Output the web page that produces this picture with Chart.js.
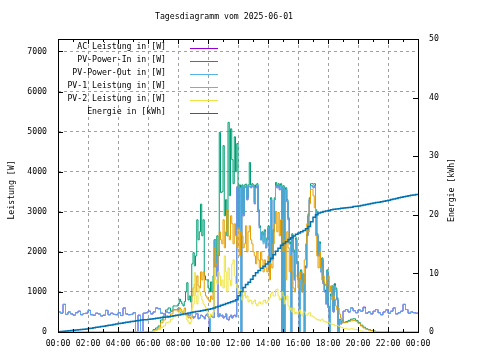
<!DOCTYPE html>
<html>
<head>
<meta charset="utf-8">
<script src="https://cdn.jsdelivr.net/npm/chart.js@4/dist/chart.umd.min.js"></script>
<style>
  html, body { margin: 0; padding: 0; background: #fff; }
  canvas { display: block; }
</style>
</head>
<body>
<canvas id="chart" width="480" height="360"></canvas>
<script>
const titel = "Tagesdiagramm vom 2025-06-01";
const yTitel = "Leistung [W]";
const y2Titel = "Energie [kWh]";
const xTickLabels = ["00:00", "02:00", "04:00", "06:00", "08:00", "10:00", "12:00",
                     "14:00", "16:00", "18:00", "20:00", "22:00", "00:00"];
const yTicks = [0, 1000, 2000, 3000, 4000, 5000, 6000, 7000];
const y2Ticks = [0, 10, 20, 30, 40, 50];
const serienNamen = ["AC Leistung in [W]", "PV-Power-In in [W]", "PV-Power-Out in [W]",
                     "PV-1 Leistung in [W]", "PV-2 Leistung in [W]", "Energie in [kWh]"];
const serienFarben = ["#9400d3", "#009e73", "#56b4e9", "#e69f00", "#f0e442", "#0072b2"];

// Leistungswerte: 00:00-08:00 alle 10 min, 08:00-19:00 alle 5 min, 19:00-24:00 alle 10 min
const acLeistung = [
  480, 500, 470, 690, 440, 500,
  450, 420, 480, 520, 430, 460,
  470, 540, 430, 420, 470, 450,
  400, 420, 540, 430, 470, 440,
  430, 480, 410, 600, 450, 430,
  440, 480, 0, 420, 0, 470,
  480, 520, 450, 500, 600, 580,
  470, 450, 500, 480, 520, 560,
  560, 600, 520, 480, 450, 520, 500, 460, 450, 420, 420, 480,
  400, 350, 380, 450, 460, 330, 350, 420, 400, 380, 330, 420,
  450, 380, 0, 420, 380, 360, 2300, 1400, 1900, 380, 450, 400,
  420, 350, 380, 450, 320, 300, 380, 420, 350, 400, 420, 380,
  3620, 2570, 3600, 0, 3620, 2900, 3600, 3640, 3300, 3620, 3640, 3600,
  3650, 3620, 3200, 3600, 3650, 3000, 2600, 2300, 2450, 2430, 2500, 2100,
  2300, 2600, 1500, 3300, 1800, 2500, 3300, 3650, 3600, 3650, 3550, 3650,
  0, 3600, 0, 3550, 3250, 2800, 2200, 0, 2400, 2000, 1300, 2300,
  1700, 1300, 0, 1500, 1000, 1400, 0, 1600, 2400, 2900, 3300, 3650,
  3650, 3600, 3650, 3000, 2400, 1900, 2200, 1500, 1800, 1200, 1000, 700,
  1500, 600, 0, 900, 1100, 500, 1200, 1050, 800, 0, 300, 200,
  250, 520, 560, 500, 600, 530,
  480, 550, 520, 620, 470, 500,
  450, 520, 560, 480, 430, 500,
  550, 470, 520, 600, 450, 480,
  520, 690, 560, 470, 500, 480,
  470
];
const pvPowerIn = [
  0, 0, 0, 0, 0, 0,
  0, 0, 0, 0, 0, 0,
  0, 0, 0, 0, 0, 0,
  0, 0, 0, 0, 0, 0,
  0, 0, 0, 0, 0, 0,
  0, 0, 0, 0, 0, 0,
  0, 0, 0, 60, 100, 150,
  300, 400, 550, 600, 520, 650,
  650, 700, 820, 760, 700, 650, 760, 1000, 1230, 800, 900, 750,
  1700, 1980, 1650, 1900, 2800, 2300, 2500, 3190, 2400, 2800, 1400, 1300,
  1300, 1100, 1000, 1250, 1000, 1400, 2300, 1700, 2400, 1900, 4980, 3480,
  3500, 4650, 2900, 3300, 2400, 5230, 3400, 5070, 4300, 3700, 4870, 4000,
  4700, 2620, 3670, 0, 3670, 2950, 3670, 3690, 3350, 3670, 4230, 3670,
  3700, 3670, 3250, 3670, 3700, 3050, 2650, 2350, 2500, 2250, 2550, 2150,
  2350, 2650, 1550, 3350, 1850, 2550, 3350, 3730, 3650, 3700, 3600, 3700,
  0, 3650, 0, 3600, 3300, 2850, 2250, 0, 2450, 2050, 1350, 2350,
  1750, 1350, 0, 1550, 1050, 1450, 0, 1650, 2450, 2950, 3350, 3700,
  3700, 3690, 3700, 3050, 2450, 1950, 2250, 1550, 1850, 1250, 1050, 750,
  1550, 650, 0, 950, 1150, 550, 1200, 1100, 850, 0, 320, 250,
  300, 240, 260, 290, 320, 330,
  290, 230, 170, 120, 80, 60,
  40, 25, 10, 0, 0, 0,
  0, 0, 0, 0, 0, 0,
  0, 0, 0, 0, 0, 0,
  0
];
const pvPowerOut = [
  480, 500, 470, 690, 440, 500,
  450, 420, 480, 520, 430, 460,
  470, 540, 430, 420, 470, 450,
  400, 420, 540, 430, 470, 440,
  430, 480, 410, 600, 450, 430,
  440, 480, 0, 420, 0, 470,
  480, 520, 450, 500, 600, 580,
  470, 450, 500, 480, 520, 560,
  560, 600, 520, 480, 450, 520, 500, 460, 450, 420, 420, 480,
  400, 350, 380, 450, 460, 330, 350, 420, 400, 380, 330, 420,
  450, 380, 0, 420, 380, 360, 2300, 1400, 1900, 380, 450, 400,
  420, 350, 380, 450, 320, 300, 380, 420, 350, 400, 420, 380,
  3620, 2570, 3600, 0, 3620, 2900, 3600, 3640, 3300, 3620, 3640, 3600,
  3650, 3620, 3200, 3600, 3650, 3000, 2600, 2300, 2450, 2200, 2500, 2100,
  2300, 2600, 1500, 3300, 1800, 2500, 3300, 3650, 3600, 3650, 3550, 3650,
  0, 3600, 0, 3550, 3250, 2800, 2200, 0, 2400, 2000, 1300, 2300,
  1700, 1300, 0, 1500, 1000, 1400, 0, 1600, 2400, 2900, 3300, 3650,
  3650, 3600, 3650, 3000, 2400, 1900, 2200, 1500, 1800, 1200, 1000, 700,
  1500, 600, 0, 900, 1100, 500, 1150, 1050, 800, 0, 300, 200,
  250, 520, 560, 500, 600, 530,
  480, 550, 520, 600, 470, 500,
  450, 520, 560, 480, 430, 500,
  550, 470, 520, 600, 450, 480,
  520, 690, 560, 470, 500, 480,
  470
];
const pv1Leistung = [
  0, 0, 0, 0, 0, 0,
  0, 0, 0, 0, 0, 0,
  0, 0, 0, 0, 0, 0,
  0, 0, 0, 0, 0, 0,
  0, 0, 0, 0, 0, 0,
  0, 0, 0, 0, 0, 0,
  0, 0, 0, 30, 60, 100,
  230, 300, 400, 360, 450, 550,
  550, 500, 600, 560, 480, 520, 600, 450, 400, 350, 380, 330,
  900, 1100, 1200, 1000, 1400, 1150, 1100, 1500, 1300, 1500, 1000, 900,
  850, 800, 750, 900, 820, 1000, 2100, 1650, 1700, 2000, 2500, 2300,
  2200, 2800, 2100, 2500, 3050, 2400, 2300, 2900, 2700, 2200, 2700, 2400,
  2100, 2600, 1900, 2500, 2400, 2100, 2200, 2650, 2000, 2500, 2650, 2300,
  2200, 2000, 1900, 1700, 2000, 1800, 1600, 2000, 1800, 1500, 1800, 1600,
  1500, 1900, 1300, 1700, 1600, 2200, 2700, 3000, 2500, 2980, 2400, 2800,
  2800, 2000, 2300, 1300, 2500, 2100, 1500, 1900, 1500, 1100, 1000, 1400,
  1400, 1100, 1500, 1300, 1000, 1200, 1800, 2200, 2700, 2500, 3200, 3560,
  3560, 3400, 3100, 2400, 1900, 1600, 2000, 1600, 1300, 1400, 1200, 1150,
  1300, 1400, 1000, 1150, 800, 900, 820, 650, 550, 600, 450, 350,
  260, 230, 240, 260, 280, 290,
  270, 210, 150, 100, 70, 50,
  30, 20, 5, 0, 0, 0,
  0, 0, 0, 0, 0, 0,
  0, 0, 0, 0, 0, 0,
  0
];
const pv2Leistung = [
  0, 0, 0, 0, 0, 0,
  0, 0, 0, 0, 0, 0,
  0, 0, 0, 0, 0, 0,
  0, 0, 0, 0, 0, 0,
  0, 0, 0, 0, 0, 0,
  0, 0, 0, 0, 0, 0,
  0, 0, 0, 20, 40, 60,
  110, 150, 230, 250, 320, 400,
  400, 450, 550, 500, 450, 550, 500, 400, 300, 250, 200, 250,
  600, 700, 1480, 900, 700, 1100, 1000, 900, 800, 700, 650, 600,
  500, 400, 350, 450, 400, 500, 1600, 1300, 1200, 1500, 1400, 1150,
  1300, 1100, 1900, 1500, 1000, 1600, 1300, 1150, 1700, 1800, 1400, 1200,
  1100, 1000, 900, 1050, 800, 900, 1000, 850, 900, 750, 800, 780,
  700, 760, 800, 700, 650, 720, 750, 700, 700, 780, 800, 720,
  750, 800, 850, 950, 1000, 900, 900, 1050, 1070, 900, 800, 850,
  1000, 900, 700, 800, 900, 650, 550, 600, 500, 600, 450, 500,
  450, 500, 550, 450, 400, 500, 500, 430, 420, 470, 480, 400,
  400, 380, 350, 330, 300, 310, 280, 300, 320, 280, 250, 260,
  230, 250, 200, 220, 180, 190, 150, 160, 170, 150, 130, 120,
  110, 90, 80, 70, 80, 70,
  60, 40, 20, 0, 0, 0,
  0, 0, 0, 0, 0, 0,
  0, 0, 0, 0, 0, 0,
  0, 0, 0, 0, 0, 0,
  0
];
// Energie alle 10 min, eine Zeile pro Stunde, letzter Wert = 24:00
const energie = [
  0.00, 0.04, 0.08, 0.12, 0.16, 0.20,
  0.25, 0.29, 0.33, 0.37, 0.41, 0.45,
  0.50, 0.58, 0.65, 0.72, 0.79, 0.86,
  0.93, 1.00, 1.07, 1.14, 1.21, 1.29,
  1.37, 1.44, 1.51, 1.58, 1.65, 1.72,
  1.79, 1.85, 1.91, 1.97, 2.03, 2.07,
  2.10, 2.16, 2.22, 2.28, 2.34, 2.40,
  2.46, 2.52, 2.58, 2.64, 2.70, 2.76,
  2.84, 2.92, 3.00, 3.08, 3.16, 3.24,
  3.32, 3.40, 3.48, 3.56, 3.64, 3.72,
  3.80, 3.88, 3.96, 4.10, 4.25, 4.40,
  4.55, 4.70, 4.85, 5.00, 5.15, 5.30,
  5.50, 6.20, 6.90, 7.60, 8.10, 8.50,
  9.00, 9.60, 10.10, 10.50, 10.90, 11.20,
  11.60, 12.00, 12.60, 13.20, 13.80, 14.30,
  14.80, 15.10, 15.40, 15.80, 16.10, 16.40,
  16.70, 16.90, 17.10, 17.30, 17.60, 18.00,
  18.80, 19.60, 20.00, 20.30, 20.45, 20.55,
  20.65, 20.75, 20.85, 20.95, 21.00, 21.05,
  21.10, 21.15, 21.20, 21.25, 21.30, 21.40,
  21.45, 21.52, 21.60, 21.68, 21.76, 21.84,
  21.92, 22.00, 22.08, 22.16, 22.24, 22.32,
  22.40, 22.50, 22.60, 22.70, 22.80, 22.90,
  23.00, 23.08, 23.16, 23.24, 23.32, 23.40,
  23.45
];

// Zeitraster in Stunden
const zeitLeistung = [];
for (let m = 0; m < 480; m += 10) zeitLeistung.push(m / 60);
for (let m = 480; m < 1140; m += 5) zeitLeistung.push(m / 60);
for (let m = 1140; m <= 1440; m += 10) zeitLeistung.push(m / 60);
const zeitEnergie = energie.map((_, i) => i / 6);

const schrift = "DejaVu Sans Mono";
const schriftGroesse = 8.2;

function punkte(zeit, werte) {
  return werte.map((w, i) => ({ x: zeit[i], y: w }));
}

const reihen = [acLeistung, pvPowerIn, pvPowerOut, pv1Leistung, pv2Leistung, energie];

const datasets = reihen.map((werte, i) => ({
  label: serienNamen[i],
  data: punkte(i === 5 ? zeitEnergie : zeitLeistung, werte),
  borderColor: serienFarben[i],
  borderWidth: i === 5 ? 1.5 : 1,
  pointRadius: 0,
  stepped: "after",
  fill: false,
  yAxisID: i === 5 ? "y2" : "y",
  order: 6 - i   // wie gnuplot: spätere Kurven liegen oben
}));

// Rahmen, Ticks nach innen, Titel und Legende
const rahmenPlugin = {
  id: "rahmen",
  afterDraw(chart) {
    const ctx = chart.ctx;
    const a = chart.chartArea;
    const sx = chart.scales.x, sy = chart.scales.y, sy2 = chart.scales.y2;
    ctx.save();
    ctx.setLineDash([]);
    ctx.globalAlpha = 1;
    ctx.strokeStyle = "#000";
    ctx.lineWidth = 1;
    ctx.beginPath();
    for (let h = 0; h <= 24; h++) {
      const px = Math.round(sx.getPixelForValue(h)) + 0.5;
      const len = h % 2 === 0 ? 5 : 3;
      ctx.moveTo(px, a.bottom); ctx.lineTo(px, a.bottom - len);
      ctx.moveTo(px, a.top); ctx.lineTo(px, a.top + len);
    }
    yTicks.forEach(v => {
      const py = Math.round(sy.getPixelForValue(v)) + 0.5;
      ctx.moveTo(a.left, py); ctx.lineTo(a.left + 5, py);
    });
    y2Ticks.forEach(v => {
      const py = Math.round(sy2.getPixelForValue(v)) + 0.5;
      ctx.moveTo(a.right, py); ctx.lineTo(a.right - 5, py);
    });
    ctx.stroke();
    ctx.strokeRect(Math.round(a.left) + 0.5, Math.round(a.top) + 0.5,
                   Math.round(a.right - a.left), Math.round(a.bottom - a.top));

    ctx.fillStyle = "#000";
    ctx.font = schriftGroesse + "px '" + schrift + "'";
    ctx.textBaseline = "middle";
    ctx.textAlign = "center";
    ctx.fillText(titel, 224, 17);

    ctx.save();
    ctx.translate(12, 190);
    ctx.rotate(-Math.PI / 2);
    ctx.fillText(yTitel, 0, 0);
    ctx.restore();
    ctx.save();
    ctx.translate(452, 190);
    ctx.rotate(-Math.PI / 2);
    ctx.fillText(y2Titel, 0, 0);
    ctx.restore();

    // Legende: Text rechtsbündig, Linienmuster rechts daneben
    ctx.textAlign = "right";
    serienNamen.forEach((name, i) => {
      const ly = Math.round(a.top) + 8 + i * 13;
      ctx.fillStyle = "#000";
      ctx.fillText(name, 166, ly);
    });
    serienNamen.forEach((name, i) => {
      const ly = Math.round(a.top) + 8 + i * 13;
      ctx.strokeStyle = serienFarben[i];
      ctx.lineWidth = 1;
      ctx.beginPath();
      ctx.moveTo(190, ly + 1.5);
      ctx.lineTo(218, ly + 1.5);
      ctx.stroke();
    });
    ctx.restore();
  }
};

const tickFont = { family: schrift, size: schriftGroesse };

new Chart(document.getElementById("chart").getContext("2d"), {
  type: "line",
  data: { datasets: datasets },
  options: {
    responsive: false,
    animation: false,
    devicePixelRatio: 1,
    layout: { padding: { top: 39, left: 0, right: 0, bottom: 0 } },
    plugins: { legend: { display: false }, tooltip: { enabled: false } },
    scales: {
      x: {
        type: "linear",
        min: 0,
        max: 24,
        afterFit: s => { s.height = 28; },
        afterBuildTicks: s => { s.ticks = xTickLabels.map((_, i) => ({ value: i * 2 })); },
        ticks: {
          autoSkip: false,
          maxRotation: 0,
          padding: 7,
          color: "#000",
          font: tickFont,
          callback: (v, i) => xTickLabels[i]
        },
        grid: {
          drawTicks: false,
          color: c => (c.tick && c.tick.value > 0 && c.tick.value < 24) ? "#a0a0a0" : "rgba(0,0,0,0)"
        },
        border: { display: false, dash: [3, 3] }
      },
      y: {
        position: "left",
        min: 0,
        max: 7310,
        afterFit: s => { s.width = 58; },
        afterBuildTicks: s => { s.ticks = yTicks.map(v => ({ value: v })); },
        ticks: {
          padding: 11,
          color: "#000",
          font: tickFont,
          callback: v => String(v)
        },
        grid: {
          drawTicks: false,
          color: c => (c.tick && c.tick.value > 0) ? "#a0a0a0" : "rgba(0,0,0,0)"
        },
        border: { display: false, dash: [3, 3] }
      },
      y2: {
        position: "right",
        min: 0,
        max: 50,
        afterFit: s => { s.width = 62; },
        afterBuildTicks: s => { s.ticks = y2Ticks.map(v => ({ value: v })); },
        ticks: {
          padding: 11,
          color: "#000",
          font: tickFont,
          callback: v => String(v)
        },
        grid: { display: false, drawTicks: false },
        border: { display: false }
      }
    }
  },
  plugins: [rahmenPlugin]
});
</script>
</body>
</html>
